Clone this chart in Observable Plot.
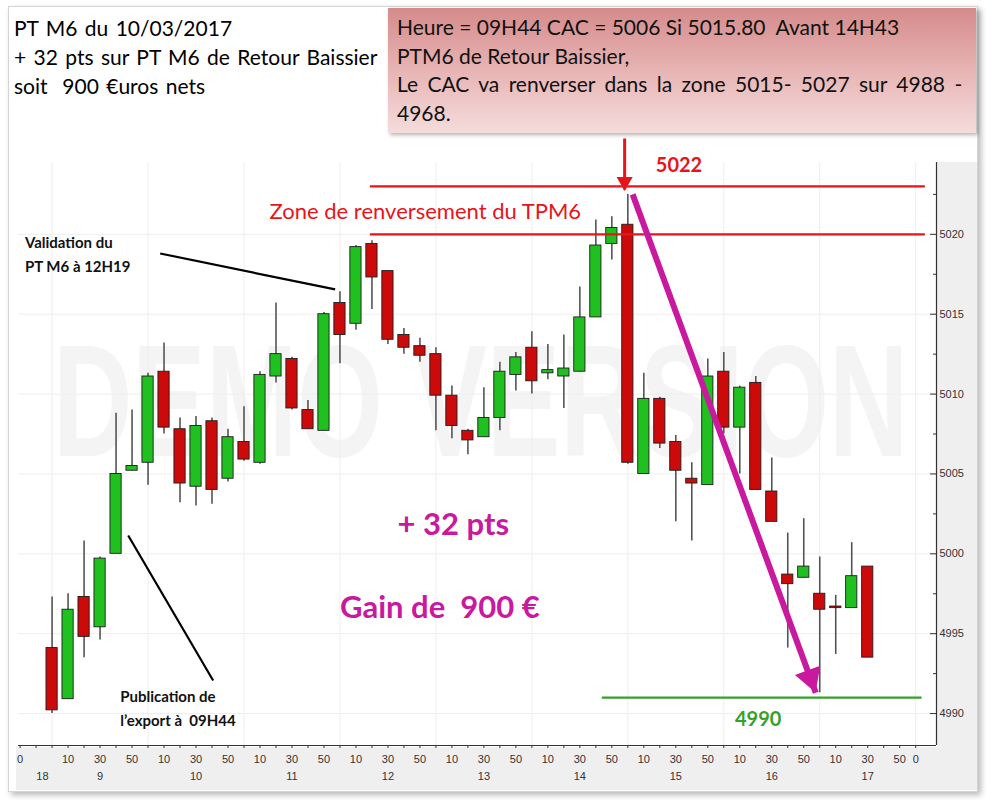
<!DOCTYPE html>
<html><head><meta charset="utf-8">
<script src="https://cdn.jsdelivr.net/npm/d3@7"></script>
<script src="https://cdn.jsdelivr.net/npm/@observablehq/plot@0.6"></script>
<style>
body{margin:0;background:#fff;width:986px;height:800px;overflow:hidden;position:relative;font-family:Lato,sans-serif;}
#frame{position:absolute;left:8px;top:6px;width:968px;height:784px;border:1px solid #d4d4d4;box-shadow:3px 3px 6px rgba(0,0,0,0.28);background:#fff;}
#grayB{position:absolute;left:16px;top:747px;width:961px;height:43px;background:#efefef;}
#grayR{position:absolute;left:937px;top:162px;width:40px;height:628px;background:#efefef;}
#left{position:absolute;left:14px;top:13px;font-size:21px;line-height:29px;color:#000;}
#left div{white-space:pre;word-spacing:2px;}
#right{position:absolute;left:388px;top:8px;width:588px;height:125px;background:linear-gradient(180deg,#d58b8b 0%,#e9b8b8 55%,#f5dcdc 100%);box-shadow:2px 2px 4px rgba(0,0,0,0.3);}
#rightText{position:absolute;left:9px;top:5px;font-size:21px;line-height:28.5px;color:#111;}
#rightText div{white-space:pre;}
#chart{position:absolute;left:0;top:0;}
</style></head>
<body>
<div id="frame"></div>
<div id="grayB"></div>
<div id="grayR"></div>
<div id="left"></div>
<div id="right"><div id="rightText"></div></div>
<div id="chart"></div>
<script>
// ---- texts ----
const titleLines = ["PT M6 du 10/03/2017", "+ 32 pts sur PT M6 de Retour Baissier", "soit  900 €uros nets"];
const boxLines = ["Heure = 09H44 CAC = 5006 Si 5015.80  Avant 14H43", "PTM6 de Retour Baissier,", "Le CAC va renverser dans la zone 5015- 5027 sur 4988 -", "4968."];

// ---- candle data (10-minute bars) ----
const times = ["09:00","09:10","09:20","09:30","09:40","09:50","10:00","10:10","10:20","10:30","10:40","10:50",
  "11:00","11:10","11:20","11:30","11:40","11:50","12:00","12:10","12:20","12:30","12:40","12:50",
  "13:00","13:10","13:20","13:30","13:40","13:50","14:00","14:10","14:20","14:30","14:40","14:50",
  "15:00","15:10","15:20","15:30","15:40","15:50","16:00","16:10","16:20","16:30","16:40","16:50",
  "17:00","17:10","17:20","17:30"];
const open  = [4994.1,4990.9,4997.3,4995.4,5000.0,5005.2,5005.7,5011.4,5007.8,5004.2,5008.3,5004.7,
  5007.0,5005.7,5011.1,5012.2,5009.0,5007.7,5015.7,5014.4,5019.4,5017.7,5013.7,5013.0,
  5012.5,5009.9,5007.7,5007.3,5008.5,5011.2,5012.9,5011.3,5011.1,5011.4,5014.8,5019.4,
  5020.6,5005.0,5009.7,5007.0,5004.7,5004.3,5011.4,5007.9,5010.7,5003.9,4998.7,4998.5,
  4997.5,4996.7,4996.6,4999.2];
const high  = [4997.3,4997.5,5000.8,4999.8,5008.8,5009.0,5011.3,5013.2,5008.5,5008.6,5008.5,5007.8,
  5009.2,5011.4,5015.7,5012.3,5009.6,5015.1,5016.4,5019.3,5019.6,5017.7,5014.1,5013.5,
  5012.9,5010.5,5007.8,5010.4,5012.0,5012.6,5013.9,5013.1,5013.7,5016.7,5020.9,5021.1,
  5022.5,5011.3,5009.8,5007.4,5005.7,5012.2,5012.6,5010.5,5011.1,5006.0,5001.3,5002.2,
  4999.8,4997.4,5000.7,4999.2];
const low   = [4990.0,4990.9,4993.5,4994.6,5000.0,5005.2,5004.3,5007.5,5003.2,5003.0,5003.1,5004.5,
  5005.8,5005.6,5010.7,5009.0,5007.8,5007.7,5011.9,5014.0,5015.3,5013.1,5012.5,5012.0,
  5007.7,5007.2,5006.2,5007.3,5007.7,5010.2,5010.0,5010.9,5009.1,5011.4,5014.8,5018.4,
  5005.6,5005.0,5006.6,5002.0,5000.8,5004.3,5007.5,5005.0,5004.0,5002.0,4994.1,4998.5,
  4991.3,4993.7,4996.6,4993.5];
const close = [4990.2,4996.5,4994.8,4999.7,5005.0,5005.5,5011.1,5007.9,5004.4,5008.0,5004.0,5007.3,
  5005.9,5011.2,5012.5,5009.1,5007.8,5015.0,5013.7,5019.2,5017.3,5013.4,5012.9,5012.4,
  5009.9,5008.0,5007.1,5008.5,5011.4,5012.3,5010.8,5011.5,5011.6,5014.8,5019.3,5020.4,
  5005.7,5009.7,5006.9,5005.2,5004.4,5011.1,5007.9,5010.4,5004.0,5002.0,4998.1,4999.2,
  4996.5,4996.6,4998.6,4993.5];

// ---- axis labels ----
const yMajor = [4990, 4995, 5000, 5005, 5010, 5015, 5020];
const yMinor = [4992.5, 4997.5, 5002.5, 5007.5, 5012.5, 5017.5, 5022.5];
const sessionHours = [9, 10, 11, 12, 13, 14, 15, 16, 17];
const minuteLabels = [10, 30, 50];
const prevCloseLabel = {hour: "18", minute: "0"};
const endLabel = "0";

// ---- annotation levels ----
const zoneTop = 5023, zoneBottom = 5020, targetLevel = 4991;
const zoneLabel = "Zone de renversement du TPM6";
const topLabel = "5022", targetLabel = "4990";
const gainLines = ["+ 32 pts", "Gain de  900 €"];
const noteValidation = ["Validation du", "PT M6 à 12H19"];
const notePublication = ["Publication de", "l\u2019export à  09H44"];
const watermark = "DEMO VERSION";
const peakIndex = 36, bottomIndex = 48;

// ---- helpers ----
const slot = t => { const [h, m] = t.split(":").map(Number); return (h - 9) * 6 + m / 10; };
const candles = times.map((t, i) => ({t, s: slot(t), o: open[i], h: high[i], l: low[i], c: close[i], up: close[i] >= open[i]}));
const prevSlot = -2, endSlot = slot("18:00");
const minuteTicks = [{s: prevSlot, label: prevCloseLabel.minute}]
  .concat(sessionHours.flatMap(h => minuteLabels.map(m => ({s: (h - 9) * 6 + m / 10, label: String(m)}))))
  .concat([{s: endSlot, label: endLabel}]);
const hourTicks = [{s: -0.6, label: prevCloseLabel.hour}].concat(sessionHours.map(h => ({s: (h - 9) * 6 + 3, label: String(h)})));
const allSlots = d3.range(prevSlot, endSlot + 1);
const hourGrid = d3.range(0, endSlot + 1, 6);

const leftEl = document.getElementById("left");
titleLines.forEach(t => { const d = document.createElement("div"); d.textContent = t; leftEl.appendChild(d); });
const rightEl = document.getElementById("rightText");
boxLines.forEach((t, i) => { const d = document.createElement("div"); d.textContent = t; if (i === 2) d.style.wordSpacing = "4px"; rightEl.appendChild(d); });

const xDom = [-2.1, 55.3], yDom = [4988, 5026];
const RED = "#e8141a", MAG = "#c8199f", GREEN = "#35a02a";
const peak = candles[peakIndex], bottom = candles[bottomIndex];

const plot = Plot.plot({
  width: 986, height: 800,
  marginLeft: 18, marginRight: 50, marginTop: 138, marginBottom: 55,
  style: {background: "transparent", fontFamily: "Lato"},
  x: {domain: xDom, axis: null},
  y: {domain: yDom, axis: null},
  marks: [
    Plot.text([watermark], {x: 26.8, y: 5009.3, text: d => d, fontSize: 110, fontWeight: "bold", fontFamily: "Liberation Sans", fill: "#f4f4f4"}),
    Plot.ruleX(hourGrid, {x: d => d, y1: 4988, y2: 5024.5, stroke: "#ededed", strokeWidth: 1}),
    Plot.ruleY(yMajor, {y: d => d, x1: xDom[0], x2: xDom[1], stroke: "#eeeeee", strokeWidth: 1}),
    // wicks
    Plot.ruleX(candles, {x: "s", y1: "l", y2: "h", stroke: "#555", strokeWidth: 1.6}),
    // bodies
    Plot.rect(candles, {x1: d => d.s - 0.35, x2: d => d.s + 0.35, y1: d => Math.min(d.o, d.c), y2: d => Math.max(d.o, d.c),
      fill: d => d.up ? "#20c020" : "#cc0a0a", stroke: "#1e1e1e", strokeWidth: 0.9}),
    // zone lines
    Plot.ruleY([zoneTop, zoneBottom], {y: d => d, x1: 19.9, x2: 54.6, stroke: RED, strokeWidth: 2.2}),
    Plot.ruleY([targetLevel], {y: d => d, x1: 34.4, x2: 54.4, stroke: GREEN, strokeWidth: 2.2}),
    // red arrow to peak
    Plot.link([peak], {x1: d => d.s - 0.2, x2: d => d.s - 0.2, y1: 5026, y2: d => d.h + 0.3, stroke: RED, strokeWidth: 3}),
    Plot.dot([peak], {x: d => d.s - 0.2, y: d => d.h + 0.3, symbol: "triangle", r: 6, rotate: 180, dy: -8, fill: RED, stroke: "none"}),
    // magenta arrow
    Plot.link([{a: peak, b: bottom}], {x1: d => d.a.s + 0.3, y1: d => d.a.h, x2: d => d.b.s - 0.25, y2: d => d.b.l, stroke: MAG, strokeWidth: 6}),
    Plot.dot([bottom], {x: d => d.s - 0.25, y: d => d.l, symbol: "triangle", r: 10, rotate: 160, dx: -5.5, dy: -15, fill: MAG, stroke: "none"}),
    // leader lines
    Plot.link([{}], {x1: 6.76, y1: 5018.8, x2: 17.7, y2: 5016.55, stroke: "#000", strokeWidth: 2.2}),
    Plot.link([{}], {x1: 4.76, y1: 5001.15, x2: 10.07, y2: 4992.07, stroke: "#000", strokeWidth: 2.2}),
    // texts
    Plot.text([zoneLabel], {x: 13.6, y: 5021.4, text: d => d, textAnchor: "start", fill: RED, fontSize: 22}),
    Plot.text([topLabel], {x: 37.75, y: 5024.3, text: d => d, textAnchor: "start", fill: RED, fontSize: 20, fontWeight: "bold"}),
    Plot.text([targetLabel], {x: 42.7, y: 4989.6, text: d => d, textAnchor: "start", fill: GREEN, fontSize: 20, fontWeight: "bold"}),
    Plot.text([gainLines[0]], {x: 21.6, y: 5001.8, text: d => d, textAnchor: "start", fill: MAG, fontSize: 31, fontWeight: "bold"}),
    Plot.text([gainLines[1]], {x: 18.0, y: 4996.6, text: d => d, textAnchor: "start", fill: MAG, fontSize: 31, fontWeight: "bold"}),
    Plot.text(noteValidation, {x: -1.7, y: (d, i) => 5019.45 - i * 1.5, text: d => d, textAnchor: "start", fill: "#111", fontSize: 15, fontWeight: "bold"}),
    Plot.text(notePublication, {x: 4.26, y: (d, i) => 4991.0 - i * 1.45, text: d => d, textAnchor: "start", fill: "#111", fontSize: 15, fontWeight: "bold"}),
    // axes
    Plot.ruleY([yDom[0]], {stroke: "#333", strokeWidth: 1.2}),
    Plot.ruleX([xDom[1]], {y1: yDom[0], y2: 5024.5, stroke: "#333", strokeWidth: 1.2}),
    Plot.axisY({anchor: "right", ticks: yMajor, tickSize: 7, dx: -7, tickPadding: 3, tickFormat: d => String(d), label: null, fontSize: 11, fontFamily: "Liberation Sans", color: "#333"}),
    Plot.axisY({anchor: "right", ticks: yMinor, tickSize: 3, dx: -4, tickFormat: () => "", label: null, color: "#333"}),
    Plot.axisX({anchor: "bottom", ticks: allSlots, tickSize: 3, tickFormat: () => "", label: null, color: "#333"}),
    Plot.text(minuteTicks, {x: "s", text: "label", frameAnchor: "bottom", dy: 17, fontSize: 11, fontFamily: "Liberation Sans", fill: "#333"}),
    Plot.text(hourTicks, {x: "s", text: "label", frameAnchor: "bottom", dy: 34, fontSize: 11, fontFamily: "Liberation Sans", fill: "#333"})
  ]
});
document.getElementById("chart").appendChild(plot);
d3.select(plot).selectAll("text").filter(function() { return this.textContent === watermark; })
  .each(function() {
    const tr = this.getAttribute("transform");
    if (tr) this.setAttribute("transform", tr + " scale(1,1.45)");
  });
</script>
</body></html>
